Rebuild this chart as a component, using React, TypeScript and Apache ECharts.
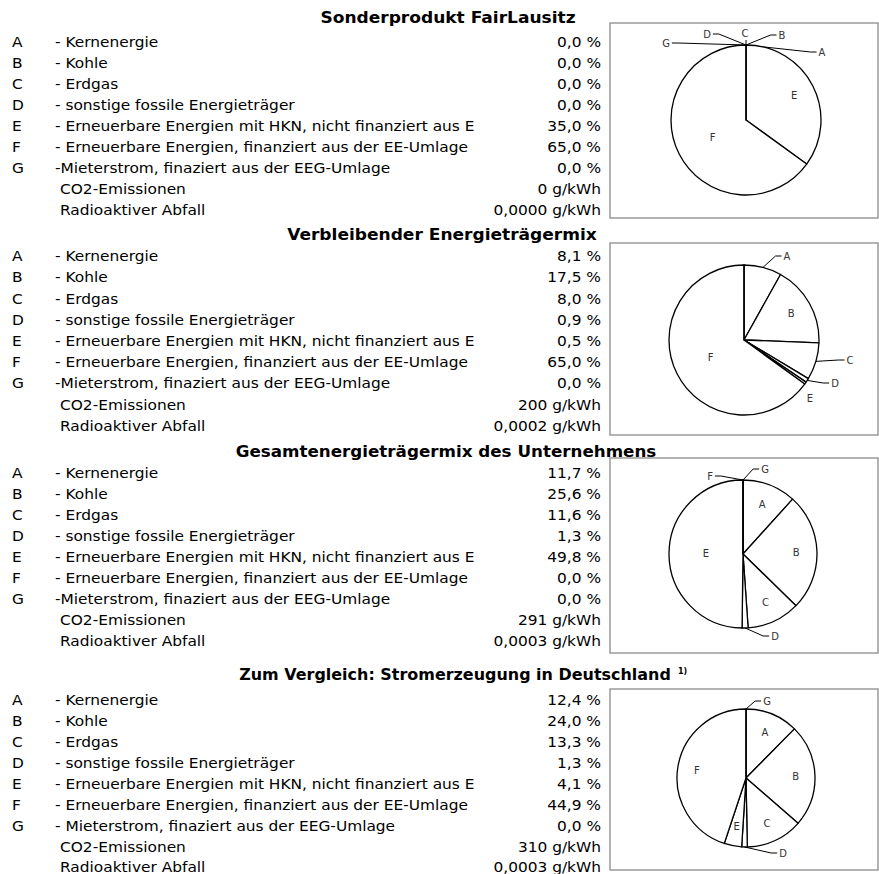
import React, { useEffect, useRef } from 'react';
import * as echarts from 'echarts';

// ---------- data ----------
const letters = ['A', 'B', 'C', 'D', 'E', 'F', 'G'];
const sourceNames = [
  '- Kernenergie',
  '- Kohle',
  '- Erdgas',
  '- sonstige fossile Energieträger',
  '- Erneuerbare Energien mit HKN, nicht finanziert aus E',
  '- Erneuerbare Energien, finanziert aus der EE-Umlage',
  '-Mieterstrom, finaziert aus der EEG-Umlage',
];
const sourceNamesGermany = [
  '- Kernenergie',
  '- Kohle',
  '- Erdgas',
  '- sonstige fossile Energieträger',
  '- Erneuerbare Energien mit HKN, nicht finanziert aus E',
  '- Erneuerbare Energien, finanziert aus der EE-Umlage',
  '- Mieterstrom, finaziert aus der EEG-Umlage',
];
const blockTitles = [
  'Sonderprodukt FairLausitz',
  'Verbleibender Energieträgermix',
  'Gesamtenergieträgermix des Unternehmens',
  'Zum Vergleich: Stromerzeugung in Deutschland',
];
const footnoteMark = '1)';
const fairLausitz = [0.0, 0.0, 0.0, 0.0, 35.0, 65.0, 0.0];
const verbleibend = [8.1, 17.5, 8.0, 0.9, 0.5, 65.0, 0.0];
const gesamt = [11.7, 25.6, 11.6, 1.3, 49.8, 0.0, 0.0];
const deutschland = [12.4, 24.0, 13.3, 1.3, 4.1, 44.9, 0.0];
const co2Values = [0, 200, 291, 310];
const wasteValues = [0.0, 0.0002, 0.0003, 0.0003];
const co2Label = 'CO2-Emissionen';
const wasteLabel = 'Radioaktiver Abfall';

// ---------- layout / style ----------
const FONT = "'DejaVu Sans', 'Liberation Sans', sans-serif";
const SX = 1.1;
const LAYOUT = [
  { titleX: 448, titleSX: 1.1, titleY: 18, rowY: 42, step: 21, box: [610, 23, 878, 218], center: [746, 120], r: 75 },
  { titleX: 442, titleSX: 1.1, titleY: 235, rowY: 256, step: 21.2, box: [610, 243, 878, 435], center: [744, 340], r: 75 },
  { titleX: 446, titleSX: 1.08, titleY: 452, rowY: 473, step: 21, box: [610, 458, 878, 653], center: [743, 554], r: 74 },
  { titleX: 455, titleSX: 1.03, titleY: 675, rowY: 700, step: 20.9, box: [610, 689, 878, 870], center: [746, 778], r: 69 },
];
// outside label offsets relative to pie centre: [dx, dy, showLine]
const PIE_OUTSIDE: Record<string, number[]>[] = [
  { A: [76, -68, 1], B: [36, -85, 1], C: [-1, -87, 1], D: [-39, -86, 1], G: [-80, -77, 1] },
  { A: [43, -84, 1], C: [106, 20, 1], D: [91, 43, 1], E: [66, 58, 0] },
  { D: [32, 82, 1], F: [-33, -78, 1], G: [22, -85, 1] },
  { D: [37, 75, 1], G: [21, -77, 1] },
];
const PIE_HIDDEN = [[], ['G'], [], []];

const fmtPct = (v: number) => v.toFixed(1).replace('.', ',') + ' %';
const fmtWaste = (v: number) => v.toFixed(4).replace('.', ',') + ' g/kWh';

function txt(text: string, x: number, y: number, size: number, align: string, bold = false, sx = SX) {
  const font = `${bold ? 'bold ' : ''}${size}px ${FONT}`;
  return {
    type: 'text',
    x,
    y,
    scaleX: sx,
    z: 10,
    style: {
      text,
      font,
      fill: '#000',
      align,
      textAlign: align,
      verticalAlign: 'middle',
      textVerticalAlign: 'middle',
    },
  };
}

export default function App() {
  const ref = useRef<HTMLDivElement>(null);
  useEffect(() => {
    if (!ref.current) return;
    const chart = echarts.init(ref.current, null, { renderer: 'svg' });
    const blockValues = [fairLausitz, verbleibend, gesamt, deutschland];
    const graphics: any[] = [];
    const series: any[] = [];

    blockValues.forEach((vals, bi) => {
      const L = LAYOUT[bi];
      const names = bi === 3 ? sourceNamesGermany : sourceNames;
      graphics.push({
        type: 'rect',
        z: 0,
        shape: { x: L.box[0], y: L.box[1], width: L.box[2] - L.box[0], height: L.box[3] - L.box[1] },
        style: { fill: 'transparent', stroke: '#9a9a9a', lineWidth: 1.5 },
      });
      graphics.push(txt(blockTitles[bi], L.titleX, L.titleY, 15.5, 'center', true, L.titleSX));
      if (bi === 3) {
        graphics.push(txt(footnoteMark, 678, L.titleY - 4, 8, 'left', true, 1));
      }
      letters.forEach((letter, i) => {
        const y = L.rowY + i * L.step;
        graphics.push(txt(letter, 12, y, 14, 'left'));
        graphics.push(txt(names[i], 55, y, 14, 'left'));
        graphics.push(txt(fmtPct(vals[i]), 601, y, 14, 'right'));
      });
      const yCo2 = L.rowY + 7 * L.step;
      const yWaste = L.rowY + 8 * L.step;
      graphics.push(txt(co2Label, 60, yCo2, 14, 'left'));
      graphics.push(txt(`${co2Values[bi]} g/kWh`, 601, yCo2, 14, 'right'));
      graphics.push(txt(wasteLabel, 60, yWaste, 14, 'left'));
      graphics.push(txt(fmtWaste(wasteValues[bi]), 601, yWaste, 14, 'right'));

      const outside = PIE_OUTSIDE[bi];
      const hidden = PIE_HIDDEN[bi] as string[];
      const total = vals.reduce((a, b) => a + b, 0);
      series.push({
        type: 'pie',
        center: L.center,
        radius: L.r,
        startAngle: 90,
        clockwise: true,
        avoidLabelOverlap: false,
        silent: true,
        z: 2,
        itemStyle: { color: '#fff', borderColor: '#000', borderWidth: 1.3 },
        label: { fontSize: 10, color: '#333', fontFamily: FONT, formatter: (p: any) => p.name },
        labelLine: { lineStyle: { color: '#000', width: 1 } },
        data: vals.map((v, i) => {
          const o = outside[letters[i]];
          return {
            name: letters[i],
            value: v,
            label: { show: hidden.indexOf(letters[i]) < 0, position: o ? 'outside' : 'inside', color: '#333' },
            labelLine: { show: !!o && o[2] === 1 },
          };
        }),
        labelLayout: (p: any) => {
          const i = p.dataIndex;
          let cum = 0;
          for (let j = 0; j < i; j++) cum += vals[j];
          const mid = ((cum + vals[i] / 2) / total) * Math.PI * 2;
          const dx = Math.sin(mid);
          const dy = -Math.cos(mid);
          const cx = L.center[0];
          const cy = L.center[1];
          const r = L.r;
          const o = outside[letters[i]];
          if (!o) {
            const f = vals[i] >= 49 ? 0.5 : 0.72;
            return { x: cx + f * r * dx, y: cy + f * r * dy, align: 'center', verticalAlign: 'middle' };
          }
          const lx = cx + o[0];
          const ly = cy + o[1];
          const ax = cx + r * dx;
          const ay = cy + r * dy;
          const w = (p.labelRect ? p.labelRect.width : 7) / 2 + 2;
          let pts: number[][];
          if (Math.abs(lx - ax) < 8) {
            pts = [[ax, ay], [ax, ly + 7], [ax, ly + 7]];
          } else {
            const s = lx > ax ? 1 : -1;
            const ex = lx - s * w;
            pts = [[ax, ay], [ex - s * 6, ly], [ex, ly]];
          }
          return { x: lx, y: ly, align: 'center', verticalAlign: 'middle', labelLinePoints: pts };
        },
      });
    });

    chart.setOption({
      animation: false,
      backgroundColor: '#fff',
      graphic: { elements: graphics },
      series,
    });
    return () => chart.dispose();
  }, []);
  return <div ref={ref} style={{ position: 'fixed', left: 0, top: 0, width: 879, height: 874 }} />;
}
